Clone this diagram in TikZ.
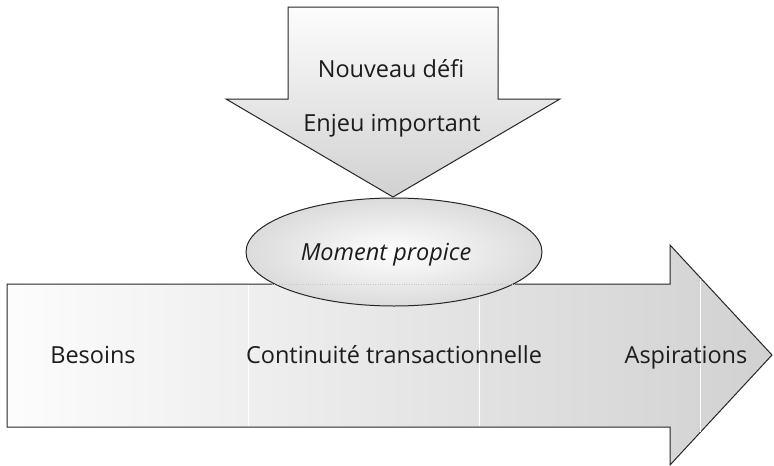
\documentclass[tikz,border=0pt]{standalone}
\usepackage{fontspec}
\setmainfont{Open Sans}
\usetikzlibrary{shapes.geometric}
\definecolor{ink}{HTML}{1E1B1C}
\definecolor{edge}{HTML}{262626}
\tikzset{
  outline/.style={draw=edge, line width=1pt, line join=miter},
  label/.style={text=ink, font=\fontsize{23.5}{26}\selectfont, anchor=base, inner sep=0pt},
  divider/.style={draw=white, line width=0.9pt}
}
\begin{document}
\begin{tikzpicture}[x=1pt,y=-1pt]
\useasboundingbox (0,0) rectangle (774,466);

% horizontal arrow: needs -> aspirations
\coordinate (hTL) at (7,284);
\coordinate (hBL) at (7,427);
\shade[outline, left color=gray!2, right color=gray!36]
  (hTL) -- (670,284) -- (670,245) -- (772,355) -- (670,465) -- (670,427) -- (hBL) -- cycle;
\draw[divider] (248,285) -- (248,426);
\draw[divider] (479,285) -- (479,426);
\draw[divider] (700,278.5) -- (700,431.5);

% vertical arrow pointing down
\coordinate (vTip) at (393,197);
\shade[outline, top color=gray!2, bottom color=gray!36]
  (288,7) -- (498,7) -- (498,99) -- (560,99) -- (vTip) -- (226,99) -- (288,99) -- cycle;

% ellipse
\node[ellipse, outline, inner color=white, outer color=gray!28,
      minimum width=296pt, minimum height=108pt, inner sep=0pt] (moment) at (394,252) {};
\draw[gray!45, line width=0.4pt, dotted] (272,284) -- (516,284);

% labels
\node[label] (defi) at (391,77) {Nouveau défi};
\node[label] (enjeu) at (392,131) {Enjeu important};
\node[label, font=\fontsize{23.5}{26}\selectfont\itshape] (propice) at (386,260) {Moment propice};
\node[label] (besoins) at (93,363) {Besoins};
\node[label] (continuite) at (394,363) {Continuité transactionnelle};
\node[label] (aspirations) at (686,363) {Aspirations};
\end{tikzpicture}
\end{document}
